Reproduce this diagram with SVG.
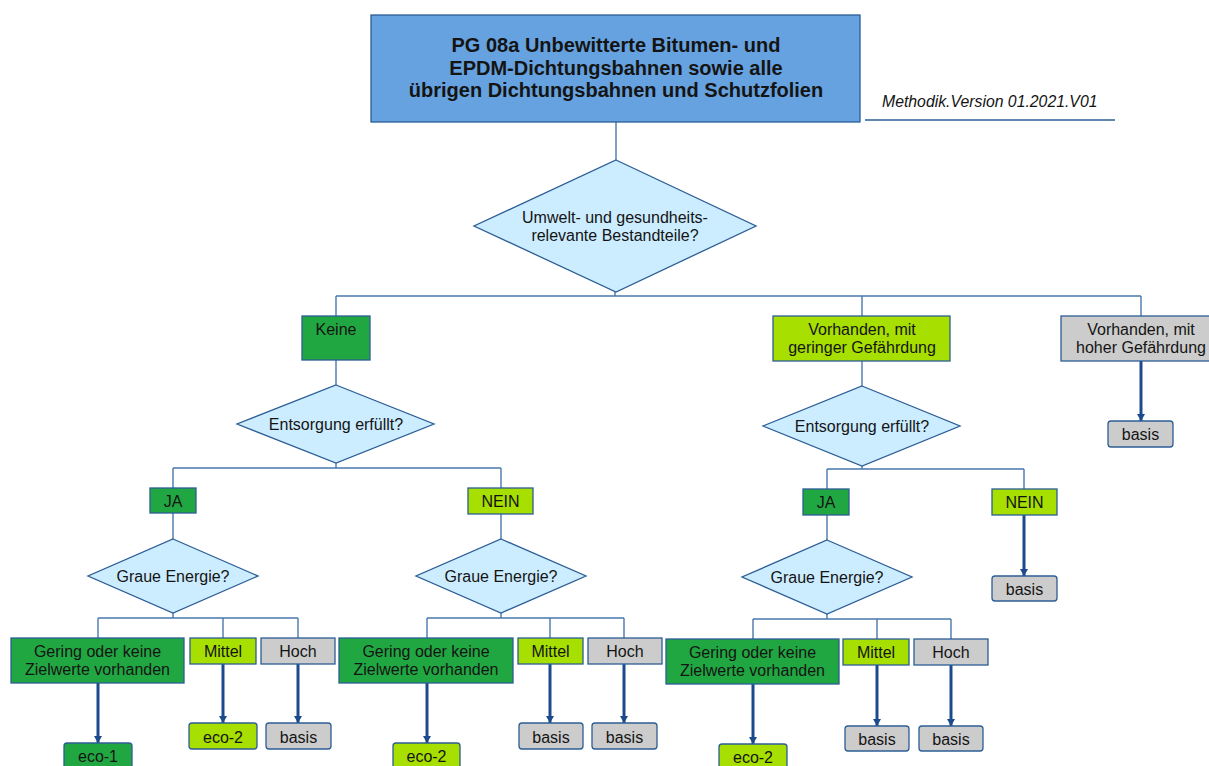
<svg xmlns="http://www.w3.org/2000/svg" width="1209" height="766" viewBox="0 0 1209 766">
  <defs>
    <marker id="tip" markerUnits="userSpaceOnUse" markerWidth="9" markerHeight="8" refX="7" refY="4" orient="auto" viewBox="0 0 9 8">
      <path d="M0,0 L7,4 L0,8 Z" fill="#1B4B8D"/>
    </marker>
  </defs>
  <style>
    text { font-family: "Liberation Sans", Arial, sans-serif; font-size: 16px; fill: #141414; text-anchor: middle; }
    .title { font-size: 20px; font-weight: bold; }
    .meta { font-style: italic; text-anchor: start; font-size: 15.8px; }
    .box { stroke: #2C5E95; stroke-width: 1.3; }
    .dec { fill: #CCECFF; stroke: #2C5E95; stroke-width: 1.3; }
    .dg { fill: #21A742; }
    .lg { fill: #A6DF00; }
    .gy { fill: #CCCCCC; }
    .res { stroke: #2C5E95; stroke-width: 1.3; }
    .conn { fill: none; stroke: #4A78AE; stroke-width: 1.4; }
    .arr { fill: none; stroke: #1B4B8D; stroke-width: 3; marker-end: url(#tip); }
  </style>
  <rect width="1209" height="766" fill="#FFFFFF"/>

  <!-- connectors -->
  <g id="connectors">
    <path class="conn" d="M616,122 V160"/>
    <path class="conn" d="M615,292 V296 M336,296 H1141 M336,296 V316 M862,296 V316 M1141,296 V316"/>
    <path class="conn" d="M336,360 V385"/>
    <path class="conn" d="M336,463 V468 M173,468 H501 M173,468 V488 M501,468 V488"/>
    <path class="conn" d="M173,513 V539"/>
    <path class="conn" d="M173,613 V618 M98,618 H298 M98,618 V638 M223,618 V638 M298,618 V638"/>
    <path class="conn" d="M501,514 V539"/>
    <path class="conn" d="M501,613 V618 M427,618 H624 M427,618 V638 M550,618 V638 M624,618 V638"/>
    <path class="conn" d="M862,361 V386"/>
    <path class="conn" d="M862,466 V469 M827,469 H1024 M827,469 V489 M1024,469 V489"/>
    <path class="conn" d="M827,515 V540"/>
    <path class="conn" d="M827,614 V619 M753,619 H951 M753,619 V639 M877,619 V639 M951,619 V639"/>
    <line class="arr" x1="1141" y1="361" x2="1141" y2="421"/>
    <line class="arr" x1="1024" y1="515" x2="1024" y2="576"/>
    <line class="arr" x1="98" y1="683" x2="98" y2="743"/>
    <line class="arr" x1="223" y1="664" x2="223" y2="723"/>
    <line class="arr" x1="298" y1="664" x2="298" y2="723"/>
    <line class="arr" x1="427" y1="683" x2="427" y2="743"/>
    <line class="arr" x1="550" y1="664" x2="550" y2="723"/>
    <line class="arr" x1="624" y1="664" x2="624" y2="723"/>
    <line class="arr" x1="753" y1="684" x2="753" y2="744"/>
    <line class="arr" x1="877" y1="665" x2="877" y2="726"/>
    <line class="arr" x1="951" y1="665" x2="951" y2="726"/>
  </g>

  <!-- header -->
  <g id="title">
    <rect x="371" y="15" width="489" height="107" fill="#66A2DF" stroke="#2C5E95" stroke-width="1.3"/>
    <text class="title" x="616" y="52">PG 08a Unbewitterte Bitumen- und</text>
    <text class="title" x="616" y="74.5">EPDM-Dichtungsbahnen sowie alle</text>
    <text class="title" x="616" y="97">übrigen Dichtungsbahnen und Schutzfolien</text>
  </g>
  <g id="version">
    <text class="meta" x="882" y="107">Methodik.Version 01.2021.V01</text>
    <line x1="865" y1="120" x2="1115" y2="120" stroke="#2C5E95" stroke-width="1.3"/>
  </g>

  <!-- level 1 -->
  <g id="q-bestandteile">
    <polygon class="dec" points="616,160 756,226 616,292 474,226"/>
    <text x="615" y="223">Umwelt- und gesundheits-</text>
    <text x="615" y="241">relevante Bestandteile?</text>
  </g>
  <g id="keine">
    <rect class="box dg" x="302" y="316" width="68" height="44"/>
    <text x="336" y="335">Keine</text>
  </g>
  <g id="gering-gefaehrdung">
    <rect class="box lg" x="773" y="316" width="177" height="45"/>
    <text x="862" y="335">Vorhanden, mit</text>
    <text x="862" y="353">geringer Gefährdung</text>
  </g>
  <g id="hohe-gefaehrdung">
    <rect class="box gy" x="1061" y="316" width="160" height="45"/>
    <text x="1141" y="335">Vorhanden, mit</text>
    <text x="1141" y="353">hoher Gefährdung</text>
  </g>
  <g id="hohe-basis">
    <rect class="res gy" x="1108" y="421" width="65" height="26" rx="3"/>
    <text x="1140.5" y="440">basis</text>
  </g>

  <!-- Keine branch -->
  <g id="q-entsorgung-1">
    <polygon class="dec" points="336,385 434,424 336,463 237,424"/>
    <text x="336" y="429.5">Entsorgung erfüllt?</text>
  </g>
  <g id="ja-1">
    <rect class="box dg" x="150" y="488" width="46" height="25"/>
    <text x="173" y="506.5">JA</text>
  </g>
  <g id="nein-1">
    <rect class="box lg" x="468" y="488" width="65" height="26"/>
    <text x="500.5" y="507">NEIN</text>
  </g>
  <g id="q-energie-1">
    <polygon class="dec" points="173,539 258,576 173,613 88,576"/>
    <text x="173" y="582">Graue Energie?</text>
  </g>
  <g id="gering-1">
    <rect class="box dg" x="11" y="638" width="173" height="45"/>
    <text x="97.5" y="657">Gering oder keine</text>
    <text x="97.5" y="675">Zielwerte vorhanden</text>
  </g>
  <g id="mittel-1">
    <rect class="box lg" x="190" y="638" width="66" height="26"/>
    <text x="223" y="657">Mittel</text>
  </g>
  <g id="hoch-1">
    <rect class="box gy" x="261" y="638" width="74" height="26"/>
    <text x="298" y="657">Hoch</text>
  </g>
  <g id="eco1-a">
    <rect class="res dg" x="64" y="743" width="68" height="32" rx="3"/>
    <text x="98" y="762">eco-1</text>
  </g>
  <g id="eco2-a">
    <rect class="res lg" x="189" y="723" width="68" height="26" rx="3"/>
    <text x="223" y="743">eco-2</text>
  </g>
  <g id="basis-a">
    <rect class="res gy" x="266" y="723" width="65" height="26" rx="3"/>
    <text x="298.5" y="743">basis</text>
  </g>

  <g id="q-energie-2">
    <polygon class="dec" points="501,539 586,576 501,613 416,576"/>
    <text x="501" y="582">Graue Energie?</text>
  </g>
  <g id="gering-2">
    <rect class="box dg" x="339" y="638" width="174" height="45"/>
    <text x="426" y="657">Gering oder keine</text>
    <text x="426" y="675">Zielwerte vorhanden</text>
  </g>
  <g id="mittel-2">
    <rect class="box lg" x="518" y="638" width="65" height="26"/>
    <text x="550.5" y="657">Mittel</text>
  </g>
  <g id="hoch-2">
    <rect class="box gy" x="588" y="638" width="74" height="26"/>
    <text x="625" y="657">Hoch</text>
  </g>
  <g id="eco2-b">
    <rect class="res lg" x="393" y="743" width="67" height="32" rx="3"/>
    <text x="426.5" y="762">eco-2</text>
  </g>
  <g id="basis-b">
    <rect class="res gy" x="519" y="723" width="64" height="26" rx="3"/>
    <text x="551" y="743">basis</text>
  </g>
  <g id="basis-c">
    <rect class="res gy" x="592" y="723" width="65" height="26" rx="3"/>
    <text x="624.5" y="743">basis</text>
  </g>

  <!-- geringe Gefährdung branch -->
  <g id="q-entsorgung-2">
    <polygon class="dec" points="862,386 960,426 862,466 763,426"/>
    <text x="862" y="431.5">Entsorgung erfüllt?</text>
  </g>
  <g id="ja-2">
    <rect class="box dg" x="803" y="489" width="46" height="26"/>
    <text x="826" y="508">JA</text>
  </g>
  <g id="nein-2">
    <rect class="box lg" x="992" y="489" width="65" height="26"/>
    <text x="1024.5" y="508">NEIN</text>
  </g>
  <g id="basis-nein-2">
    <rect class="res gy" x="992" y="576" width="65" height="25" rx="3"/>
    <text x="1024.5" y="594.5">basis</text>
  </g>
  <g id="q-energie-3">
    <polygon class="dec" points="827,540 912,577 827,614 742,577"/>
    <text x="827" y="583">Graue Energie?</text>
  </g>
  <g id="gering-3">
    <rect class="box dg" x="666" y="639" width="173" height="45"/>
    <text x="752.5" y="658">Gering oder keine</text>
    <text x="752.5" y="676">Zielwerte vorhanden</text>
  </g>
  <g id="mittel-3">
    <rect class="box lg" x="843" y="639" width="66" height="26"/>
    <text x="876" y="658">Mittel</text>
  </g>
  <g id="hoch-3">
    <rect class="box gy" x="914" y="639" width="74" height="26"/>
    <text x="951" y="658">Hoch</text>
  </g>
  <g id="eco2-c">
    <rect class="res lg" x="719" y="744" width="68" height="32" rx="3"/>
    <text x="753" y="763">eco-2</text>
  </g>
  <g id="basis-d">
    <rect class="res gy" x="845" y="726" width="64" height="25" rx="3"/>
    <text x="877" y="745">basis</text>
  </g>
  <g id="basis-e">
    <rect class="res gy" x="919" y="726" width="64" height="25" rx="3"/>
    <text x="951" y="745">basis</text>
  </g>
</svg>
